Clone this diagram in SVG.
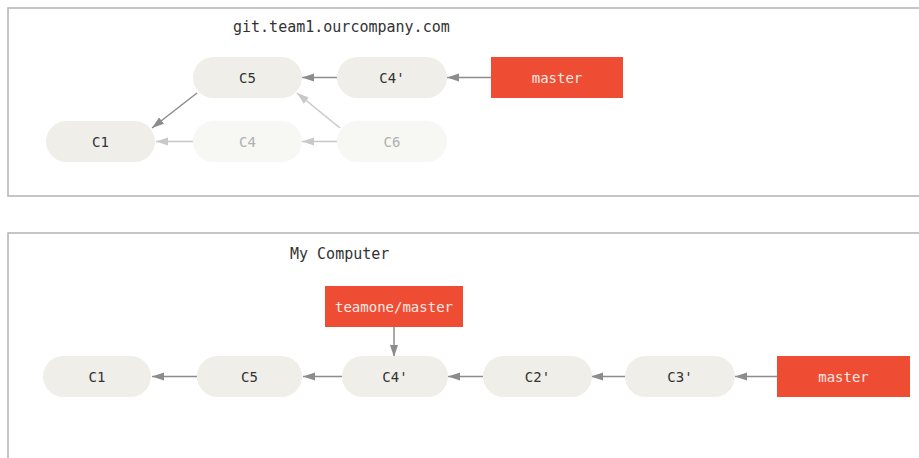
<svg xmlns="http://www.w3.org/2000/svg" width="919" height="458" viewBox="0 0 919 458">
<style>
.frame{fill:#fff;stroke:#b3b3b3;stroke-width:1.5}
.title{font-family:"DejaVu Sans Mono","Liberation Mono",monospace;font-size:15px;fill:#333}
.commit{fill:#efeee8}
.faded{fill:#f7f7f3}
.ctext{font-family:"DejaVu Sans Mono","Liberation Mono",monospace;font-size:14px;fill:#333;text-anchor:middle}
.ftext{font-family:"DejaVu Sans Mono","Liberation Mono",monospace;font-size:14px;fill:#b0b0b0;text-anchor:middle}
.branch{fill:#ef4d33}
.btext{font-family:"DejaVu Sans Mono","Liberation Mono",monospace;font-size:14px;fill:#fbe9e5;text-anchor:middle}
.edge{stroke:#8c8c8c;stroke-width:1.5;fill:none;marker-end:url(#arr)}
.fedge{stroke:#c8c8c8;stroke-width:1.5;fill:none;marker-end:url(#farr)}
</style>
<defs>
<marker id="arr" markerUnits="userSpaceOnUse" markerWidth="12" markerHeight="10" refX="12" refY="5" orient="auto"><path d="M0,1 L12,5 L0,9 Z" fill="#8c8c8c"/></marker>
<marker id="farr" markerUnits="userSpaceOnUse" markerWidth="12" markerHeight="10" refX="12" refY="5" orient="auto"><path d="M0,1 L12,5 L0,9 Z" fill="#c8c8c8"/></marker>
</defs>
<rect class="frame" x="8" y="8" width="915" height="188"/>
<rect class="frame" x="8" y="233" width="915" height="230"/>
<text class="title" x="233" y="32">git.team1.ourcompany.com</text>
<text class="title" x="290" y="259">My Computer</text>
<g id="connectors">
<line class="edge" x1="337" y1="77.5" x2="302" y2="77.5"/>
<line class="edge" x1="491" y1="77.5" x2="447" y2="77.5"/>
<line class="edge" x1="197" y1="93" x2="152" y2="128"/>
<line class="fedge" x1="340" y1="128" x2="297" y2="93"/>
<line class="fedge" x1="193" y1="141.5" x2="156" y2="141.5"/>
<line class="fedge" x1="337" y1="141.5" x2="302" y2="141.5"/>
<line class="edge" x1="394" y1="327" x2="394" y2="357"/>
<line class="edge" x1="197" y1="376.5" x2="152" y2="376.5"/>
<line class="edge" x1="342" y1="376.5" x2="303" y2="376.5"/>
<line class="edge" x1="483" y1="376.5" x2="448" y2="376.5"/>
<line class="edge" x1="625" y1="376.5" x2="591" y2="376.5"/>
<line class="edge" x1="777" y1="376.5" x2="735" y2="376.5"/>
</g>
<g id="t-C5"><rect class="commit" x="193" y="57" width="109" height="41" rx="20.5"/><text class="ctext" x="247.5" y="82.5">C5</text></g>
<g id="t-C4p"><rect class="commit" x="337" y="57" width="110" height="41" rx="20.5"/><text class="ctext" x="392" y="82.5">C4'</text></g>
<g id="t-master"><rect class="branch" x="491" y="57" width="132" height="41"/><text class="btext" x="557" y="82.5">master</text></g>
<g id="t-C1"><rect class="commit" x="46" y="121" width="109" height="41" rx="20.5"/><text class="ctext" x="100.5" y="146.5">C1</text></g>
<g id="t-C4"><rect class="faded" x="193" y="121" width="109" height="41" rx="20.5"/><text class="ftext" x="247.5" y="146.5">C4</text></g>
<g id="t-C6"><rect class="faded" x="337" y="121" width="110" height="41" rx="20.5"/><text class="ftext" x="392" y="146.5">C6</text></g>
<g id="b-teamone"><rect class="branch" x="325" y="286" width="138" height="41"/><text class="btext" x="394" y="311.5">teamone/master</text></g>
<g id="b-C1"><rect class="commit" x="43" y="356" width="108" height="41" rx="20.5"/><text class="ctext" x="97" y="381.5">C1</text></g>
<g id="b-C5"><rect class="commit" x="197" y="356" width="105" height="41" rx="20.5"/><text class="ctext" x="249.5" y="381.5">C5</text></g>
<g id="b-C4p"><rect class="commit" x="342" y="356" width="106" height="41" rx="20.5"/><text class="ctext" x="395" y="381.5">C4'</text></g>
<g id="b-C2p"><rect class="commit" x="483" y="356" width="109" height="41" rx="20.5"/><text class="ctext" x="537.5" y="381.5">C2'</text></g>
<g id="b-C3p"><rect class="commit" x="625" y="356" width="110" height="41" rx="20.5"/><text class="ctext" x="680" y="381.5">C3'</text></g>
<g id="b-master"><rect class="branch" x="777" y="356" width="133" height="41"/><text class="btext" x="843.5" y="381.5">master</text></g>
</svg>
